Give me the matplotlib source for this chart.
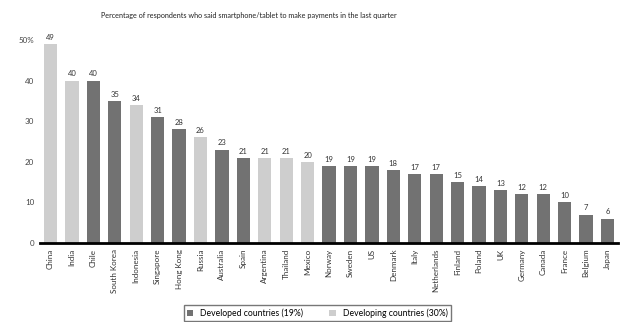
import matplotlib.pyplot as plt
from matplotlib.patches import Patch

# Data
countries = ["China", "India", "Chile", "South Korea", "Indonesia", "Singapore", "Hong Kong",
             "Russia", "Australia", "Spain", "Argentina", "Thailand", "Mexico", "Norway",
             "Sweden", "US", "Denmark", "Italy", "Netherlands", "Finland", "Poland", "UK",
             "Germany", "Canada", "France", "Belgium", "Japan"]
values = [49, 40, 40, 35, 34, 31, 28, 26, 23, 21, 21, 21, 20, 19, 19, 19, 18, 17, 17,
          15, 14, 13, 12, 12, 10, 7, 6]
developing = ["China", "India", "Indonesia", "Russia", "Argentina", "Thailand", "Mexico"]
legend_labels = ["Developed countries (19%)", "Developing countries (30%)"]
title = "Percentage of respondents who said smartphone/tablet to make payments in the last quarter"

dark = "#727272"
light = "#cecece"
colors = [light if c in developing else dark for c in countries]

plt.rcParams['font.family'] = ['Lato', 'DejaVu Sans']

fig = plt.figure(figsize=(6.22, 3.22), dpi=100)
ax = fig.add_axes([0.064, 0.245, 0.93, 0.631])

x = range(len(countries))
bars = ax.bar(x, values, width=0.62, color=colors)
for xi, v in zip(x, values):
    ax.text(xi, v + 0.8, str(v), ha="center", va="bottom", fontsize=5.5, color="#333333", clip_on=False)

ax.set_xlim(-0.5, len(countries) - 0.5)
ax.set_ylim(0, 50)
ax.set_yticks([0, 10, 20, 30, 40, 50])
ax.set_yticklabels(["0", "10", "20", "30", "40", "50%"], fontsize=5.8, color="#444444")
ax.set_xticks(list(x))
ax.set_xticklabels(countries, rotation=90, fontsize=5.8, color="#333333")
ax.tick_params(axis="both", length=0, pad=4)
for s in ["top", "right", "left"]:
    ax.spines[s].set_visible(False)
ax.spines["bottom"].set_linewidth(2)
ax.spines["bottom"].set_color("black")

fig.text(0.40, 0.953, title, ha="center", va="center", fontsize=5.2, color="#222222")

handles = [Patch(facecolor=dark), Patch(facecolor=light)]
fig.legend(handles, legend_labels, loc="lower center", bbox_to_anchor=(0.51, -0.01), ncol=2,
           fontsize=6.2, frameon=True, fancybox=False, edgecolor="#555555",
           handlelength=0.8, handleheight=0.8, columnspacing=3.0, borderpad=0.35)

fig.savefig("out.png", dpi=100)
